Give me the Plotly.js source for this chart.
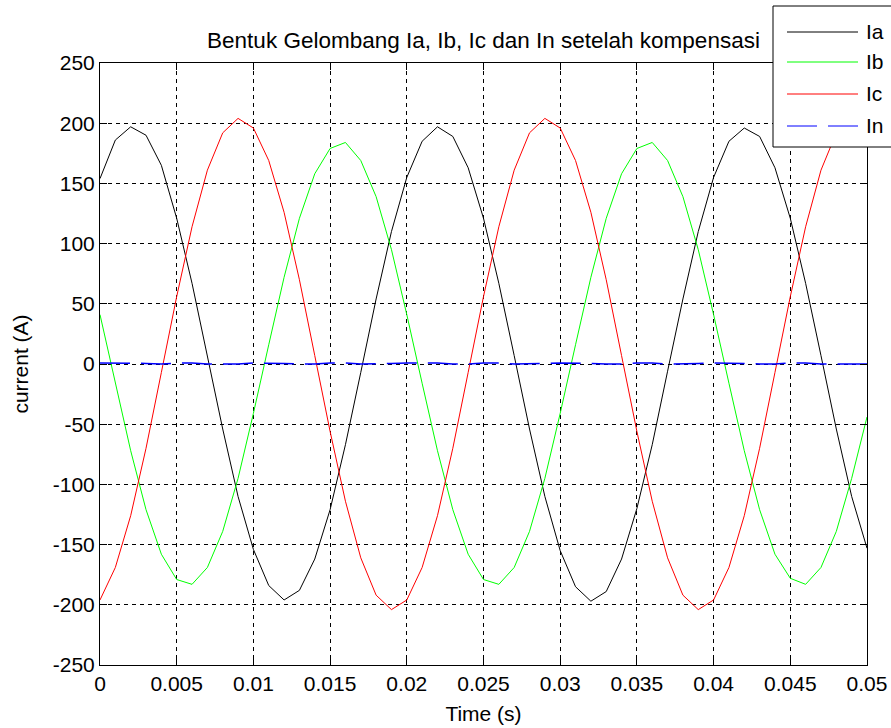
<!DOCTYPE html>
<html>
<head>
<meta charset="utf-8">
<script src="https://cdn.plot.ly/plotly-3.0.1.min.js"></script>
<style>html,body{margin:0;padding:0;background:#fff;}#chart{width:891px;height:728px;}</style>
</head>
<body>
<div id="chart"></div>
<script>
// Time samples (s)
const time = [0,0.001,0.002,0.003,0.004,0.005,0.006,0.007,0.008,0.009,
  0.010,0.011,0.012,0.013,0.014,0.015,0.016,0.017,0.018,0.019,
  0.020,0.021,0.022,0.023,0.024,0.025,0.026,0.027,0.028,0.029,
  0.030,0.031,0.032,0.033,0.034,0.035,0.036,0.037,0.038,0.039,
  0.040,0.041,0.042,0.043,0.044,0.045,0.046,0.047,0.048,0.049,0.050];
const Ia = [154,186,197,190,165,121,67,7,-54,-110,
  -154,-184,-196,-188,-162,-121,-67,-7,54,110,
  155,185,197,189,163,121,67,7,-54,-110,
  -155,-185,-197,-189,-162,-120,-67,-6,54,110,
  155,185,196,189,163,121,67,7,-54,-110,-153];
const Ib = [41,-16,-72,-121,-158,-179,-183,-169,-139,-95,
  -41,16,72,121,158,179,184,169,139,95,
  41,-16,-72,-121,-158,-179,-183,-169,-139,-95,
  -41,16,72,121,158,179,184,169,139,95,
  41,-16,-72,-121,-158,-178,-183,-169,-139,-95,-44];
const Ic = [-196,-169,-126,-70,-7,56,114,161,192,204,
  196,169,126,70,7,-56,-114,-161,-192,-204,
  -196,-169,-126,-70,-7,56,114,161,192,204,
  196,169,126,70,7,-56,-114,-161,-192,-204,
  -196,-169,-126,-70,-7,56,114,161,192,204,196];
const In = [0.8,0.8,0.8,0.5,0,0.8,0.8,0,0,0,
  0.8,0.8,0.5,0,0,0.8,0.8,0,0,0.5,
  0.8,0.8,0.8,0,0,0.8,0.8,0,0,0.5,
  0.8,0.8,0.5,0,0,0.8,0.8,0,0,0.5,
  0.8,0.8,0.5,0,0,0.8,0.8,0,0,0,0];

const seriesNames = ['Ia','Ib','Ic','In'];
const seriesColors = ['#000000','#00ff00','#ff0000','#0000ff'];
const seriesDash = ['solid','solid','solid','30px,11px'];
const seriesData = [Ia, Ib, Ic, In];

const xTickVals = [0,0.005,0.01,0.015,0.02,0.025,0.03,0.035,0.04,0.045,0.05];
const xTickText = ['0','0.005','0.01','0.015','0.02','0.025','0.03','0.035','0.04','0.045','0.05'];
const yTickVals = [-250,-200,-150,-100,-50,0,50,100,150,200,250];
const yTickText = ['-250','-200','-150','-100','-50','0','50','100','150','200','250'];

const FONT = 'Liberation Sans, Arial, sans-serif';

const traces = seriesData.map((ys, i) => ({
  x: time, y: ys, type: 'scatter', mode: 'lines', name: seriesNames[i],
  line: {color: seriesColors[i], width: i === 3 ? 1.5 : 1, dash: seriesDash[i]},
  showlegend: false
}));

// custom legend (paper coordinates)
const W = 891, H = 728;
const mL = 100, mR = 24, mT = 63, mB = 63;
const pw = W - mL - mR, ph = H - mT - mB;
const px = v => (v - mL) / pw;
const py = v => (H - mB - v) / ph;

const shapes = [{
  type: 'rect', xref: 'paper', yref: 'paper',
  x0: px(773), x1: px(905), y0: py(147), y1: py(6),
  line: {color: '#000', width: 1}, fillcolor: '#ffffff', layer: 'above'
}];
const annotations = [];
const legendY = [32, 62, 94, 126];
seriesNames.forEach((n, i) => {
  shapes.push({
    type: 'line', xref: 'paper', yref: 'paper',
    x0: px(787), x1: px(858), y0: py(legendY[i]), y1: py(legendY[i]),
    line: {color: seriesColors[i], width: 1, dash: seriesDash[i]},
    layer: 'above'
  });
  annotations.push({
    xref: 'paper', yref: 'paper', x: px(864), y: py(legendY[i]),
    xanchor: 'left', yanchor: 'middle', text: n, showarrow: false,
    font: {family: FONT, size: 21, color: '#000'}
  });
});

const axisCommon = {
  showline: true, linecolor: '#000', linewidth: 1, mirror: 'allticks',
  ticks: 'inside', ticklen: 7, tickcolor: '#000', tickwidth: 1,
  showgrid: true, gridcolor: '#000', gridwidth: 1, griddash: '4px,4px',
  zeroline: false, tickfont: {family: FONT, size: 21, color: '#000'},
  tickmode: 'array'
};

const layout = {
  width: W, height: H,
  margin: {l: mL, r: mR, t: mT, b: mB},
  paper_bgcolor: '#ffffff', plot_bgcolor: '#ffffff',
  title: {text: 'Bentuk Gelombang Ia, Ib, Ic dan In setelah kompensasi',
    font: {family: FONT, size: 22.5, color: '#000'},
    x: 0.5, xref: 'paper', xanchor: 'center', y: 1 - 40 / H, yref: 'container', yanchor: 'middle'},
  xaxis: Object.assign({}, axisCommon, {
    range: [0, 0.05], tickvals: xTickVals, ticktext: xTickText,
    title: {text: 'Time (s)', font: {family: FONT, size: 21, color: '#000'}, standoff: 12}
  }),
  yaxis: Object.assign({}, axisCommon, {
    range: [-250, 250], tickvals: yTickVals, ticktext: yTickText,
    title: {text: 'current (A)', font: {family: FONT, size: 21, color: '#000'}, standoff: 18}
  }),
  shapes: shapes, annotations: annotations, showlegend: false
};

Plotly.newPlot('chart', traces, layout, {displayModeBar: false, staticPlot: true});
</script>
</body>
</html>
